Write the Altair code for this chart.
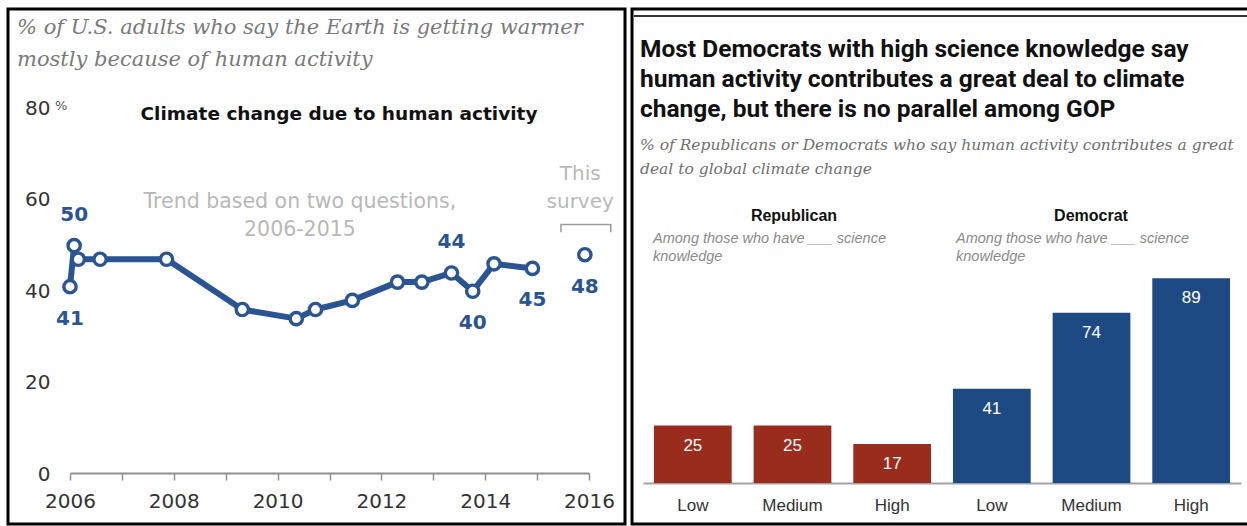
import altair as alt
import pandas as pd

# ---------------- data: left panel (line chart) ----------------
trend_years = [2006.0, 2006.08, 2006.16, 2006.58, 2007.86, 2009.32, 2010.36, 2010.73,
               2011.44, 2012.31, 2012.78, 2013.35, 2013.76, 2014.17, 2014.91]
trend_values = [41, 50, 47, 47, 47, 36, 34, 36, 38, 42, 42, 44, 40, 46, 45]
survey_years = [2015.92]
survey_values = [48]
above_years = [2006.08, 2013.35]
above_values = [50, 44]
below_years = [2006.0, 2013.76, 2014.91, 2015.92]
below_values = [41, 40, 45, 48]
y_ticks = [0, 20, 40, 60, 80]
x_ticks = list(range(2006, 2017))

# ---------------- data: right panel (bar chart) ----------------
parties = ["Republican"] * 3 + ["Democrat"] * 3
levels = ["Low", "Medium", "High"] * 2
shares = [25, 25, 17, 41, 74, 89]

BLUE = "#2a5592"
RED = "#9a2c1d"
DBLUE = "#1e4a84"
SANS = "DejaVu Sans"

# ---------------- left panel ----------------
X_LINE = alt.X(
    "year:Q",
    scale=alt.Scale(domain=[2006, 2016], range=[70, 589], nice=False, zero=False),
    axis=alt.Axis(orient="bottom", offset=-53, values=x_ticks, format="d",
                  labelExpr="datum.value % 2 == 0 ? datum.label : ''",
                  labelFlush=False, labelOverlap=False,
                  domainColor="#8f8f8f", domainWidth=2, tickColor="#8f8f8f",
                  tickWidth=1.5, tickSize=7, labelFont=SANS, labelFontSize=20,
                  labelColor="#333333", labelPadding=11, grid=False, title=None),
)
Y_LINE = alt.Y(
    "value:Q",
    scale=alt.Scale(domain=[0, 80], range=[474, 108.5], nice=False, zero=True),
    axis=alt.Axis(orient="left", offset=-52, values=y_ticks, domain=False, ticks=False,
                  tickSize=0, labelFont=SANS, labelFontSize=20, labelColor="#333333",
                  labelPadding=2, grid=False, title=None),
)

trend_df = pd.DataFrame({"year": trend_years, "value": trend_values})
survey_df = pd.DataFrame({"year": survey_years, "value": survey_values})
all_pts = pd.concat([trend_df, survey_df], ignore_index=True)
above_df = pd.DataFrame({"year": above_years, "value": above_values})
below_df = pd.DataFrame({"year": below_years, "value": below_values})

line = alt.Chart(trend_df).mark_line(color=BLUE, strokeWidth=6, strokeJoin="round").encode(x=X_LINE, y=Y_LINE)
points = alt.Chart(all_pts).mark_point(shape="circle", filled=True, fill="white", stroke=BLUE,
                                       strokeWidth=3.4, size=150, opacity=1).encode(x=X_LINE, y=Y_LINE)
lab_above = alt.Chart(above_df).mark_text(font=SANS, fontWeight="bold", fontSize=20, color=BLUE,
                                          dy=-31).encode(x=X_LINE, y=Y_LINE, text=alt.Text("value:Q"))
lab_below = alt.Chart(below_df).mark_text(font=SANS, fontWeight="bold", fontSize=20, color=BLUE,
                                          dy=32).encode(x=X_LINE, y=Y_LINE, text=alt.Text("value:Q"))

note_df = pd.DataFrame({"year": [2010.43], "value": [60.0],
                        "t": ["Trend based on two questions,\n2006-2015"]})
note = alt.Chart(note_df).mark_text(font=SANS, fontSize=20.5, color="#b8b8b8", lineBreak="\n",
                                    lineHeight=28, baseline="middle", dy=2).encode(
    x=X_LINE, y=Y_LINE, text="t:N")
survey_note_df = pd.DataFrame({"year": [2015.83], "value": [65.6], "t": ["This\nsurvey"]})
survey_note = alt.Chart(survey_note_df).mark_text(font=SANS, fontSize=20, color="#b8b8b8", lineBreak="\n",
                                                  lineHeight=28, baseline="middle").encode(
    x=X_LINE, y=Y_LINE, text="t:N")
bracket_df = pd.DataFrame({"year": [2015.46, 2015.46, 2016.42, 2016.42],
                           "value": [52.9, 54.6, 54.6, 52.9], "o": [0, 1, 2, 3]})
bracket = alt.Chart(bracket_df).mark_line(color="#9a9a9a", strokeWidth=1.5).encode(
    x=X_LINE, y=Y_LINE, order="o:Q")

left = alt.layer(line, points, lab_above, lab_below, note, survey_note, bracket)

# ---------------- right panel ----------------
bar_df = pd.DataFrame({"party": parties, "level": levels, "share": shares})
bar_df["key"] = bar_df["party"] + "|" + bar_df["level"]
keys = list(bar_df["key"])

X_BAR = alt.X(
    "key:N", sort=keys,
    scale=alt.Scale(domain=keys, range=[643, 1241], paddingInner=0.22, paddingOuter=0.11),
    axis=alt.Axis(orient="bottom", offset=-43, labelExpr="split(datum.label, '|')[1]",
                  domainColor="#a3a3a3", domainWidth=2, ticks=False, tickSize=0,
                  labelPadding=14, labelFont="Liberation Sans", labelFontSize=17,
                  labelColor="#333333", labelAngle=0, grid=False, title=None),
)
Y_BAR = alt.Y("share:Q", scale=alt.Scale(domain=[0, 100], range=[483, 253], nice=False), axis=None)

bars = alt.Chart(bar_df).mark_bar().encode(
    x=X_BAR, y=Y_BAR,
    color=alt.Color("party:N", scale=alt.Scale(domain=["Republican", "Democrat"], range=[RED, DBLUE]),
                    legend=None),
)
bar_text = alt.Chart(bar_df).mark_text(font="Liberation Sans", fontSize=17, color="white",
                                       baseline="middle", dy=20).encode(
    x=X_BAR, y=Y_BAR, text=alt.Text("share:Q"))
right = alt.layer(bars, bar_text)


# ---------------- titles, notes and frames ----------------
def label(text, x, y, **kw):
    return alt.Chart(pd.DataFrame({"t": [text]})).mark_text(**kw).encode(
        text="t:N", x=alt.value(x), y=alt.value(y))


def frame(x, x2, y, y2, width):
    return alt.Chart(pd.DataFrame({"a": [0]})).mark_rect(
        fillOpacity=0, stroke="black", strokeWidth=width).encode(
        x=alt.value(x), x2=alt.value(x2), y=alt.value(y), y2=alt.value(y2))


decor = [
    frame(8, 625, 9, 524, 3),
    frame(632, 1252, 9, 524, 3),
    alt.Chart(pd.DataFrame({"a": [0]})).mark_rule(color="#333333", strokeWidth=2).encode(
        x=alt.value(634), x2=alt.value(1247), y=alt.value(16)),
    label("% of U.S. adults who say the Earth is getting warmer\nmostly because of human activity",
          17, 34, font="DejaVu Serif", fontStyle="italic", fontSize=21, color="#7a7a7a",
          align="left", baseline="alphabetic", lineBreak="\n", lineHeight=32),
    label("%", 55, 106, font=SANS, fontSize=13, color="#555555", align="left", baseline="middle"),
    label("Climate change due to human activity", 339, 114, font=SANS, fontWeight="bold",
          fontSize=18.5, color="#111111", align="center", baseline="middle"),
    label("Most Democrats with high science knowledge say\nhuman activity contributes a great deal to climate\nchange, but there is no parallel among GOP",
          640, 57, font="Roboto", fontWeight="bold", fontSize=24.5, color="#111111",
          align="left", baseline="alphabetic", lineBreak="\n", lineHeight=30),
    label("% of Republicans or Democrats who say human activity contributes a great\ndeal to global climate change",
          640, 150, font="DejaVu Serif", fontStyle="italic", fontSize=15.5, color="#6f6f6f",
          align="left", baseline="alphabetic", lineBreak="\n", lineHeight=24),
    label("Republican", 794, 216, font="Liberation Sans", fontWeight="bold", fontSize=16,
          color="#111111", align="center", baseline="middle"),
    label("Democrat", 1091, 216, font="Liberation Sans", fontWeight="bold", fontSize=16,
          color="#111111", align="center", baseline="middle"),
    label("Among those who have ___ science\nknowledge", 653, 243, font="Liberation Sans",
          fontStyle="italic", fontSize=14.5, color="#8a8a8a", align="left", baseline="alphabetic",
          lineBreak="\n", lineHeight=18),
    label("Among those who have ___ science\nknowledge", 956, 243, font="Liberation Sans",
          fontStyle="italic", fontSize=14.5, color="#8a8a8a", align="left", baseline="alphabetic",
          lineBreak="\n", lineHeight=18),
]

chart = alt.layer(left, right, *decor).resolve_scale(
    x="independent", y="independent", color="independent"
).properties(
    width=1247, height=526, padding=0, background="white",
    autosize=alt.AutoSizeParams(type="none"),
).configure_view(stroke=None)

chart.save("out.html", embed_options={"renderer": "svg", "actions": False})
